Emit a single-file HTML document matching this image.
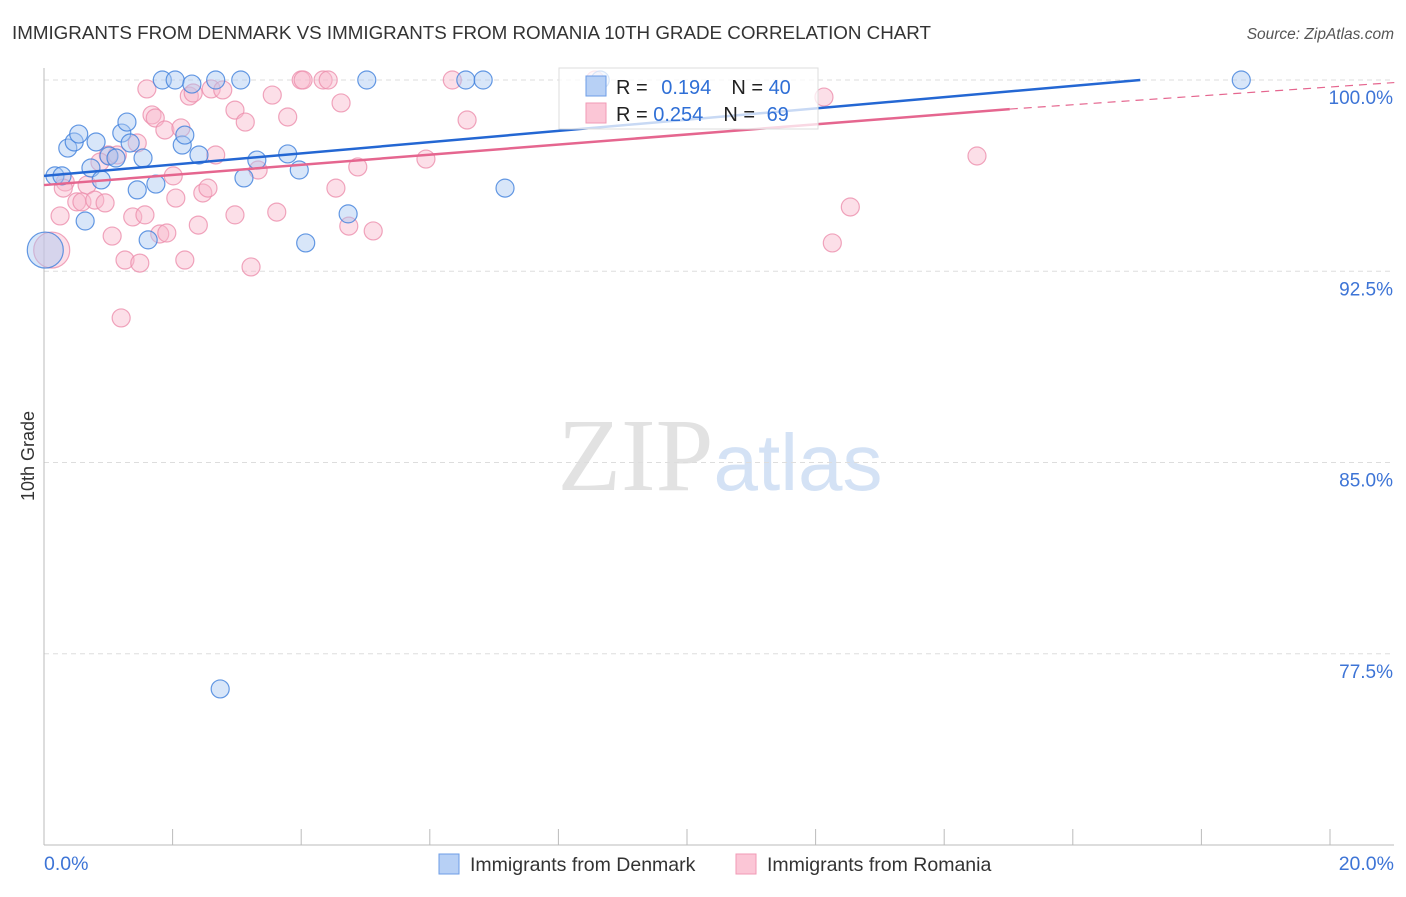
<!DOCTYPE html>
<html><head><meta charset="utf-8"><style>
body{margin:0;background:#fff;font-family:"Liberation Sans",sans-serif}
</style></head><body>
<svg id="chart" width="1406" height="892" xmlns="http://www.w3.org/2000/svg" font-family="Liberation Sans, sans-serif">
<text x="12" y="39" font-size="18.8" fill="#333" textLength="919">IMMIGRANTS FROM DENMARK VS IMMIGRANTS FROM ROMANIA 10TH GRADE CORRELATION CHART</text>
<text x="1394" y="39" font-size="15.5" fill="#555" text-anchor="end" font-style="italic">Source: ZipAtlas.com</text>
<text x="720" y="490" font-size="104" text-anchor="middle" fill="#e2e2e2" font-family="Liberation Serif, serif">ZIP<tspan fill="#d4e2f5" font-family="Liberation Sans, sans-serif" font-size="80">atlas</tspan></text>
<text transform="translate(34,456) rotate(-90)" font-size="18" fill="#333" text-anchor="middle">10th Grade</text>
<g id="grid"></g><g id="axes"></g><g id="pts"></g><g id="lines"></g>
<g>
<rect x="559" y="68" width="259" height="61" fill="#fff" fill-opacity="0.75" stroke="#ddd"/>
<rect x="586" y="76" width="20" height="20" fill="#b7d0f5" stroke="#6d9de6"/>
<text x="616" y="94" font-size="20" fill="#222">R = <tspan fill="#2f6fd6" dx="8">0.194</tspan><tspan dx="20" fill="#222">N = </tspan><tspan fill="#2f6fd6">40</tspan></text>
<rect x="586" y="103" width="20" height="20" fill="#fbc6d6" stroke="#f09ab5"/>
<text x="616" y="121" font-size="20" fill="#222">R = <tspan fill="#2f6fd6">0.254</tspan><tspan dx="20" fill="#222">N = </tspan><tspan fill="#2f6fd6" dx="6">69</tspan></text>
</g>
<g>
<rect x="439" y="854" width="20" height="20" fill="#b7d0f5" stroke="#6d9de6"/>
<text x="470" y="871" font-size="19.5" fill="#333">Immigrants from Denmark</text>
<rect x="736" y="854" width="20" height="20" fill="#fbc6d6" stroke="#f09ab5"/>
<text x="767" y="871" font-size="19.5" fill="#333">Immigrants from Romania</text>
</g>
</svg>
<script>
const yTicks=[100,92.5,85,77.5];
const yTickLabels=["100.0%","92.5%","85.0%","77.5%"];
const xTickLabels=["0.0%","20.0%"];
const blueX=[0.17,0.28,0.37,0.47,0.54,0.64,0.73,0.81,0.89,1.01,1.12,1.21,1.29,1.34,1.45,1.54,1.62,1.74,1.84,2.04,2.15,2.19,2.30,2.41,2.67,2.74,3.06,3.11,3.31,3.79,3.97,4.07,4.73,5.02,6.56,6.83,7.17,8.65,18.62,0.02];
const blueY=[96.24,96.24,97.33,97.57,97.88,94.47,96.55,97.57,96.08,97.02,96.94,97.92,98.35,97.53,95.69,96.94,93.73,95.92,100,100,97.45,97.84,99.84,97.06,100,76.12,100,96.16,96.86,97.10,96.47,93.61,94.75,100,100,100,95.76,100,100,93.33];
const pinkX=[1.60,2.26,2.32,2.60,2.78,2.97,3.13,3.55,3.79,4.62,4.00,4.03,4.34,4.42,6.35,6.58,1.68,1.73,1.88,2.13,1.45,1.00,1.14,0.87,2.67,2.01,3.33,4.88,5.94,0.33,0.30,0.67,0.51,0.59,0.79,0.95,2.47,2.55,2.05,4.54,0.25,1.38,1.57,2.97,3.62,2.40,1.06,1.80,1.91,4.74,5.12,0.12,1.26,1.49,2.19,3.22,1.20,12.13,14.51,12.54,12.26,8.57];
const pinkY=[99.65,99.37,99.49,99.65,99.61,98.82,98.35,99.41,98.55,99.10,100,100,100,100,100,98.43,98.63,98.51,98.04,98.12,97.53,97.06,97.06,96.78,97.06,96.24,96.47,96.59,96.90,96.00,95.76,95.88,95.22,95.22,95.29,95.18,95.57,95.76,95.37,95.76,94.67,94.63,94.71,94.71,94.82,94.31,93.88,93.96,94.00,94.27,94.08,93.33,92.94,92.82,92.94,92.67,90.67,99.33,97.02,95.02,93.61,100];
const blueTrend=[0,96.24,17.05,100];
const pinkTrend=[0,95.88,15.02,98.86,21,99.9];
const X=v=>44+v*64.3, Y=v=>80+(100-v)*25.5;
const NS="http://www.w3.org/2000/svg";
function mk(t,p,a){const e=document.createElementNS(NS,t);for(const k in a)e.setAttribute(k,a[k]);p.appendChild(e);return e;}
const grid=document.getElementById('grid'),axes=document.getElementById('axes'),pts=document.getElementById('pts'),lines=document.getElementById('lines');
yTicks.forEach((t,i)=>{
 const l=mk('line',grid,{x1:44,x2:1394,y1:Y(t),y2:Y(t),stroke:'#ddd','stroke-dasharray':'5,4'});
 
 
 const tx=mk('text',axes,{x:1393,y:Y(t)+24,'font-size':19,fill:'#3d74d6','text-anchor':'end'});
 tx.textContent=yTickLabels[i];
 
 
});
const ax=mk('line',axes,{x1:44,x2:44,y1:68,y2:845,stroke:'#bbb'});


const bx=mk('line',axes,{x1:44,x2:1394,y1:845,y2:845,stroke:'#bbb'});


for(let i=0;i<=10;i++){const t=mk('line',axes,{x1:X(i*2),x2:X(i*2),y1:829,y2:845,stroke:'#bbb'});
 
 }
[[0,'start',44],[20,'end',1394]].forEach((d,i)=>{const t=mk('text',axes,{x:d[2],y:870,'font-size':19.5,fill:'#3d74d6','text-anchor':d[1]});t.textContent=xTickLabels[i];
 
 });
function dots(xs,ys,fill,stroke,name){xs.forEach((x,i)=>{const big=x<0.15&&ys[i]<93.5;
 const c=mk('circle',pts,{cx:X(x),cy:Y(ys[i]),r:big?18:9,fill:fill,'fill-opacity':0.45,stroke:stroke,'stroke-opacity':0.8,'stroke-width':1.2});
 
 });}
dots(pinkX,pinkY,'#f9b7cb','#ec8fac','romania-point');
dots(blueX,blueY,'#a9c8f2','#3f7fdc','denmark-point');
const bl=mk('line',lines,{x1:X(blueTrend[0]),y1:Y(blueTrend[1]),x2:X(blueTrend[2]),y2:Y(blueTrend[3]),stroke:'#2467d3','stroke-width':2.5});


const pl=mk('line',lines,{x1:X(pinkTrend[0]),y1:Y(pinkTrend[1]),x2:X(pinkTrend[2]),y2:Y(pinkTrend[3]),stroke:'#e5668f','stroke-width':2.5});


const pd=mk('line',lines,{x1:X(pinkTrend[2]),y1:Y(pinkTrend[3]),x2:X(pinkTrend[4]),y2:Y(pinkTrend[5]),stroke:'#e5668f','stroke-width':1.2,'stroke-dasharray':'8,6'});


</script>
</body></html>
